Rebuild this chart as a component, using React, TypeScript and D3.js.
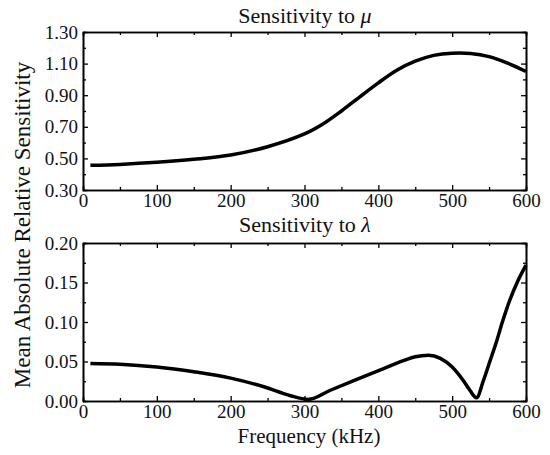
import * as d3 from 'd3';
import React, { useEffect, useRef } from 'react';

// Sensitivity to mu (top panel)
const muFreq = [10, 50, 100, 150, 200, 250, 300, 325, 350, 375, 400, 425, 450, 475, 500, 525, 550, 575, 600];
const muValues = [0.456, 0.462, 0.475, 0.494, 0.521, 0.574, 0.655, 0.718, 0.8, 0.89, 0.978, 1.058, 1.115, 1.152, 1.166, 1.164, 1.144, 1.103, 1.05];

// Sensitivity to lambda (bottom panel)
const lamFreq = [10, 50, 100, 150, 200, 245, 280, 305, 335, 370, 402, 434, 450, 468, 484, 500, 515, 524, 533, 542, 551, 560, 568, 577, 588, 600];
const lamValues = [0.0475, 0.0465, 0.043, 0.037, 0.029, 0.018, 0.007, 0.002, 0.0136, 0.027, 0.039, 0.051, 0.056, 0.058, 0.054, 0.043, 0.026, 0.0136, 0.004, 0.025, 0.05, 0.075, 0.1, 0.125, 0.15, 0.172];

const xTicks = [0, 100, 200, 300, 400, 500, 600];
const muTicks = [0.3, 0.5, 0.7, 0.9, 1.1, 1.3];
const lamTicks = [0, 0.05, 0.1, 0.15, 0.2];

const W = 550;
const H = 455;
const FONT = "'Liberation Serif', 'Times New Roman', serif";

export default function App() {
  const svgRef = useRef<SVGSVGElement>(null);

  useEffect(() => {
    if (!svgRef.current) return;
    const svg = d3.select(svgRef.current);
    svg.selectAll('*').remove();

    const left = 83;
    const right = 526;
    const x = d3.scaleLinear().domain([0, 600]).range([left, right]);

    const panels = [
      {
        top: 32, bottom: 190, domain: [0.3, 1.3], ticks: muTicks, minorStep: 0.1,
        freq: muFreq, values: muValues, title: 'μ', titleY: 23, xPad: 4,
        curve: d3.curveCatmullRom.alpha(0.5),
      },
      {
        top: 243, bottom: 401, domain: [0, 0.2], ticks: lamTicks, minorStep: 0.025,
        freq: lamFreq, values: lamValues, title: 'λ', titleY: 232, xPad: 3,
        curve: d3.curveMonotoneX,
      },
    ];

    const xMinor = d3.range(50, 600, 100);
    const fmt = d3.format('.2f');

    panels.forEach(p => {
      const y = d3.scaleLinear().domain(p.domain).range([p.bottom, p.top]);
      const g = svg.append('g');
      const yMinor = d3.range(p.domain[0] + p.minorStep, p.domain[1], p.minorStep)
        .filter(v => !p.ticks.some(t => Math.abs(t - v) < 1e-6));

      // major axes
      g.append('g').attr('transform', `translate(0,${p.bottom})`)
        .call(d3.axisBottom(x).tickValues(xTicks).tickSizeInner(-5).tickSizeOuter(0).tickPadding(p.xPad));
      g.append('g').attr('transform', `translate(0,${p.top})`)
        .call(d3.axisTop(x).tickValues(xTicks).tickSizeInner(-5).tickSizeOuter(0).tickFormat(() => ''));
      g.append('g').attr('transform', `translate(${left},0)`)
        .call(d3.axisLeft(y).tickValues(p.ticks).tickSizeInner(-5).tickSizeOuter(0).tickPadding(5).tickFormat(d => fmt(d as number)));
      g.append('g').attr('transform', `translate(${right},0)`)
        .call(d3.axisRight(y).tickValues(p.ticks).tickSizeInner(-5).tickSizeOuter(0).tickFormat(() => ''));

      // minor ticks
      g.append('g').attr('transform', `translate(0,${p.bottom})`)
        .call(d3.axisBottom(x).tickValues(xMinor).tickSize(-3).tickFormat(() => ''));
      g.append('g').attr('transform', `translate(0,${p.top})`)
        .call(d3.axisTop(x).tickValues(xMinor).tickSize(-3).tickFormat(() => ''));
      g.append('g').attr('transform', `translate(${left},0)`)
        .call(d3.axisLeft(y).tickValues(yMinor).tickSize(-3).tickFormat(() => ''));
      g.append('g').attr('transform', `translate(${right},0)`)
        .call(d3.axisRight(y).tickValues(yMinor).tickSize(-3).tickFormat(() => ''));

      g.selectAll('.domain').attr('stroke', '#000').attr('stroke-width', 1.6);
      g.selectAll('.tick line').attr('stroke', '#000').attr('stroke-width', 1.3);
      g.selectAll('.tick text')
        .style('font-family', FONT)
        .style('font-size', '19px')
        .attr('fill', '#111');

      const line = d3.line<number>()
        .x((_, i) => x(p.freq[i]))
        .y(d => y(d))
        .curve(p.curve);

      g.append('path')
        .datum(p.values)
        .attr('fill', 'none')
        .attr('stroke', '#000')
        .attr('stroke-width', 3.5)
        .attr('stroke-linejoin', 'round')
        .attr('d', line);

      const t = g.append('text')
        .attr('x', 305)
        .attr('y', p.titleY)
        .attr('text-anchor', 'middle')
        .style('font-family', FONT)
        .style('font-size', '22px')
        .attr('fill', '#111');
      t.append('tspan').text('Sensitivity to ');
      t.append('tspan').attr('font-style', 'italic').text(p.title);
    });

    svg.append('text')
      .attr('transform', 'translate(30,225) rotate(-90)')
      .attr('text-anchor', 'middle')
      .style('font-family', FONT)
      .style('font-size', '23px')
      .attr('fill', '#111')
      .text('Mean Absolute Relative Sensitivity');

    svg.append('text')
      .attr('x', 309)
      .attr('y', 443)
      .attr('text-anchor', 'middle')
      .style('font-family', FONT)
      .style('font-size', '21px')
      .attr('fill', '#111')
      .text('Frequency (kHz)');
  }, []);

  return (
    <svg
      ref={svgRef}
      width={W}
      height={H}
      style={{ position: 'absolute', left: 0, top: 0, background: '#fff', fontFamily: FONT }}
    />
  );
}
